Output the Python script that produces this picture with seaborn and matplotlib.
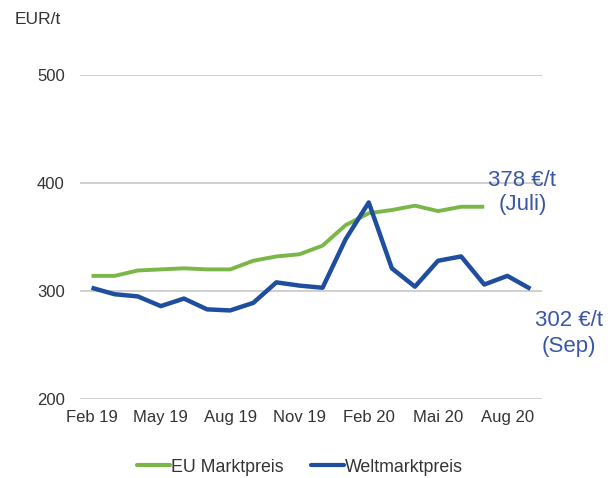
import pandas as pd
import numpy as np
import matplotlib
matplotlib.use('Agg')
import matplotlib.pyplot as plt
import seaborn as sns

# monthly prices Feb 19 .. Sep 20
months = ['Feb 19', 'Mar 19', 'Apr 19', 'May 19', 'Jun 19', 'Jul 19', 'Aug 19',
          'Sep 19', 'Oct 19', 'Nov 19', 'Dec 19', 'Jan 20', 'Feb 20', 'Mar 20',
          'Apr 20', 'Mai 20', 'Jun 20', 'Jul 20', 'Aug 20', 'Sep 20']
eu_price = [314, 314, 319, 320, 321, 320, 320, 328, 332, 334, 342, 361, 372, 375,
            379, 374, 378, 378]
world_price = [303, 297, 295, 286, 293, 283, 282, 289, 308, 305, 303, 348, 382,
               321, 304, 328, 332, 306, 314, 302]
tick_labels = ['Feb 19', 'May 19', 'Aug 19', 'Nov 19', 'Feb 20', 'Mai 20', 'Aug 20']

green = '#7AB648'
blue = '#1F4E9E'
txt_blue = '#3A56A6'
grey = '#333333'

df = pd.DataFrame({
    'idx': list(range(len(eu_price))) + list(range(len(world_price))),
    'price': eu_price + world_price,
    'serie': ['EU Marktpreis'] * len(eu_price) + ['Weltmarktpreis'] * len(world_price),
})

sns.set_style('white')
plt.rcParams['font.family'] = ['Liberation Sans', 'DejaVu Sans']

fig = plt.figure(figsize=(6.13, 4.78), dpi=100)
ax = fig.add_axes([80/613, 1-399/478, (542-80)/613, (399-75)/478])

sns.lineplot(data=df, x='idx', y='price', hue='serie',
             palette={'EU Marktpreis': green, 'Weltmarktpreis': blue},
             ax=ax, legend=False, zorder=3)
for line, lw in zip(ax.lines, [2.8, 3.2]):
    line.set_linewidth(lw)
    line.set_solid_capstyle('butt')

ax.set_ylim(200, 500)
ax.set_xlim(-0.5, len(months) - 0.5)
ax.set_yticks([200, 300, 400, 500])
ax.set_xticks([months.index(m) for m in tick_labels])
ax.set_xticklabels(tick_labels)
ax.grid(axis='y', color='#CFCFCF', linewidth=1.4)
ax.grid(axis='x', visible=False)
for s in ax.spines.values():
    s.set_visible(False)
ax.tick_params(axis='both', length=0, labelsize=12, labelcolor=grey)
ax.tick_params(axis='y', pad=11)
ax.tick_params(axis='x', pad=8)
ax.set_xlabel('')
ax.set_ylabel('')

fig.text(15/613, 1-19/478, 'EUR/t', fontsize=12.5, color=grey, va='center', ha='left')

ax.text(18.65, 391, '378 €/t\n(Juli)', fontsize=16, color=txt_blue,
        ha='center', va='center', linespacing=1.2, clip_on=False)
ax.text(20.65, 261, '302 €/t\n(Sep)', fontsize=16, color=txt_blue,
        ha='center', va='center', linespacing=1.3, clip_on=False)

handles = [plt.Line2D([], [], color=green, lw=3), plt.Line2D([], [], color=blue, lw=3)]
fig.legend(handles, ['EU Marktpreis', 'Weltmarktpreis'], loc='center',
           bbox_to_anchor=(300/613, 1-467/478), ncol=2, frameon=False,
           fontsize=12.8, handlelength=1.9, handletextpad=0.05, columnspacing=1.5,
           labelcolor=grey)

fig.savefig('out.png', dpi=100)
